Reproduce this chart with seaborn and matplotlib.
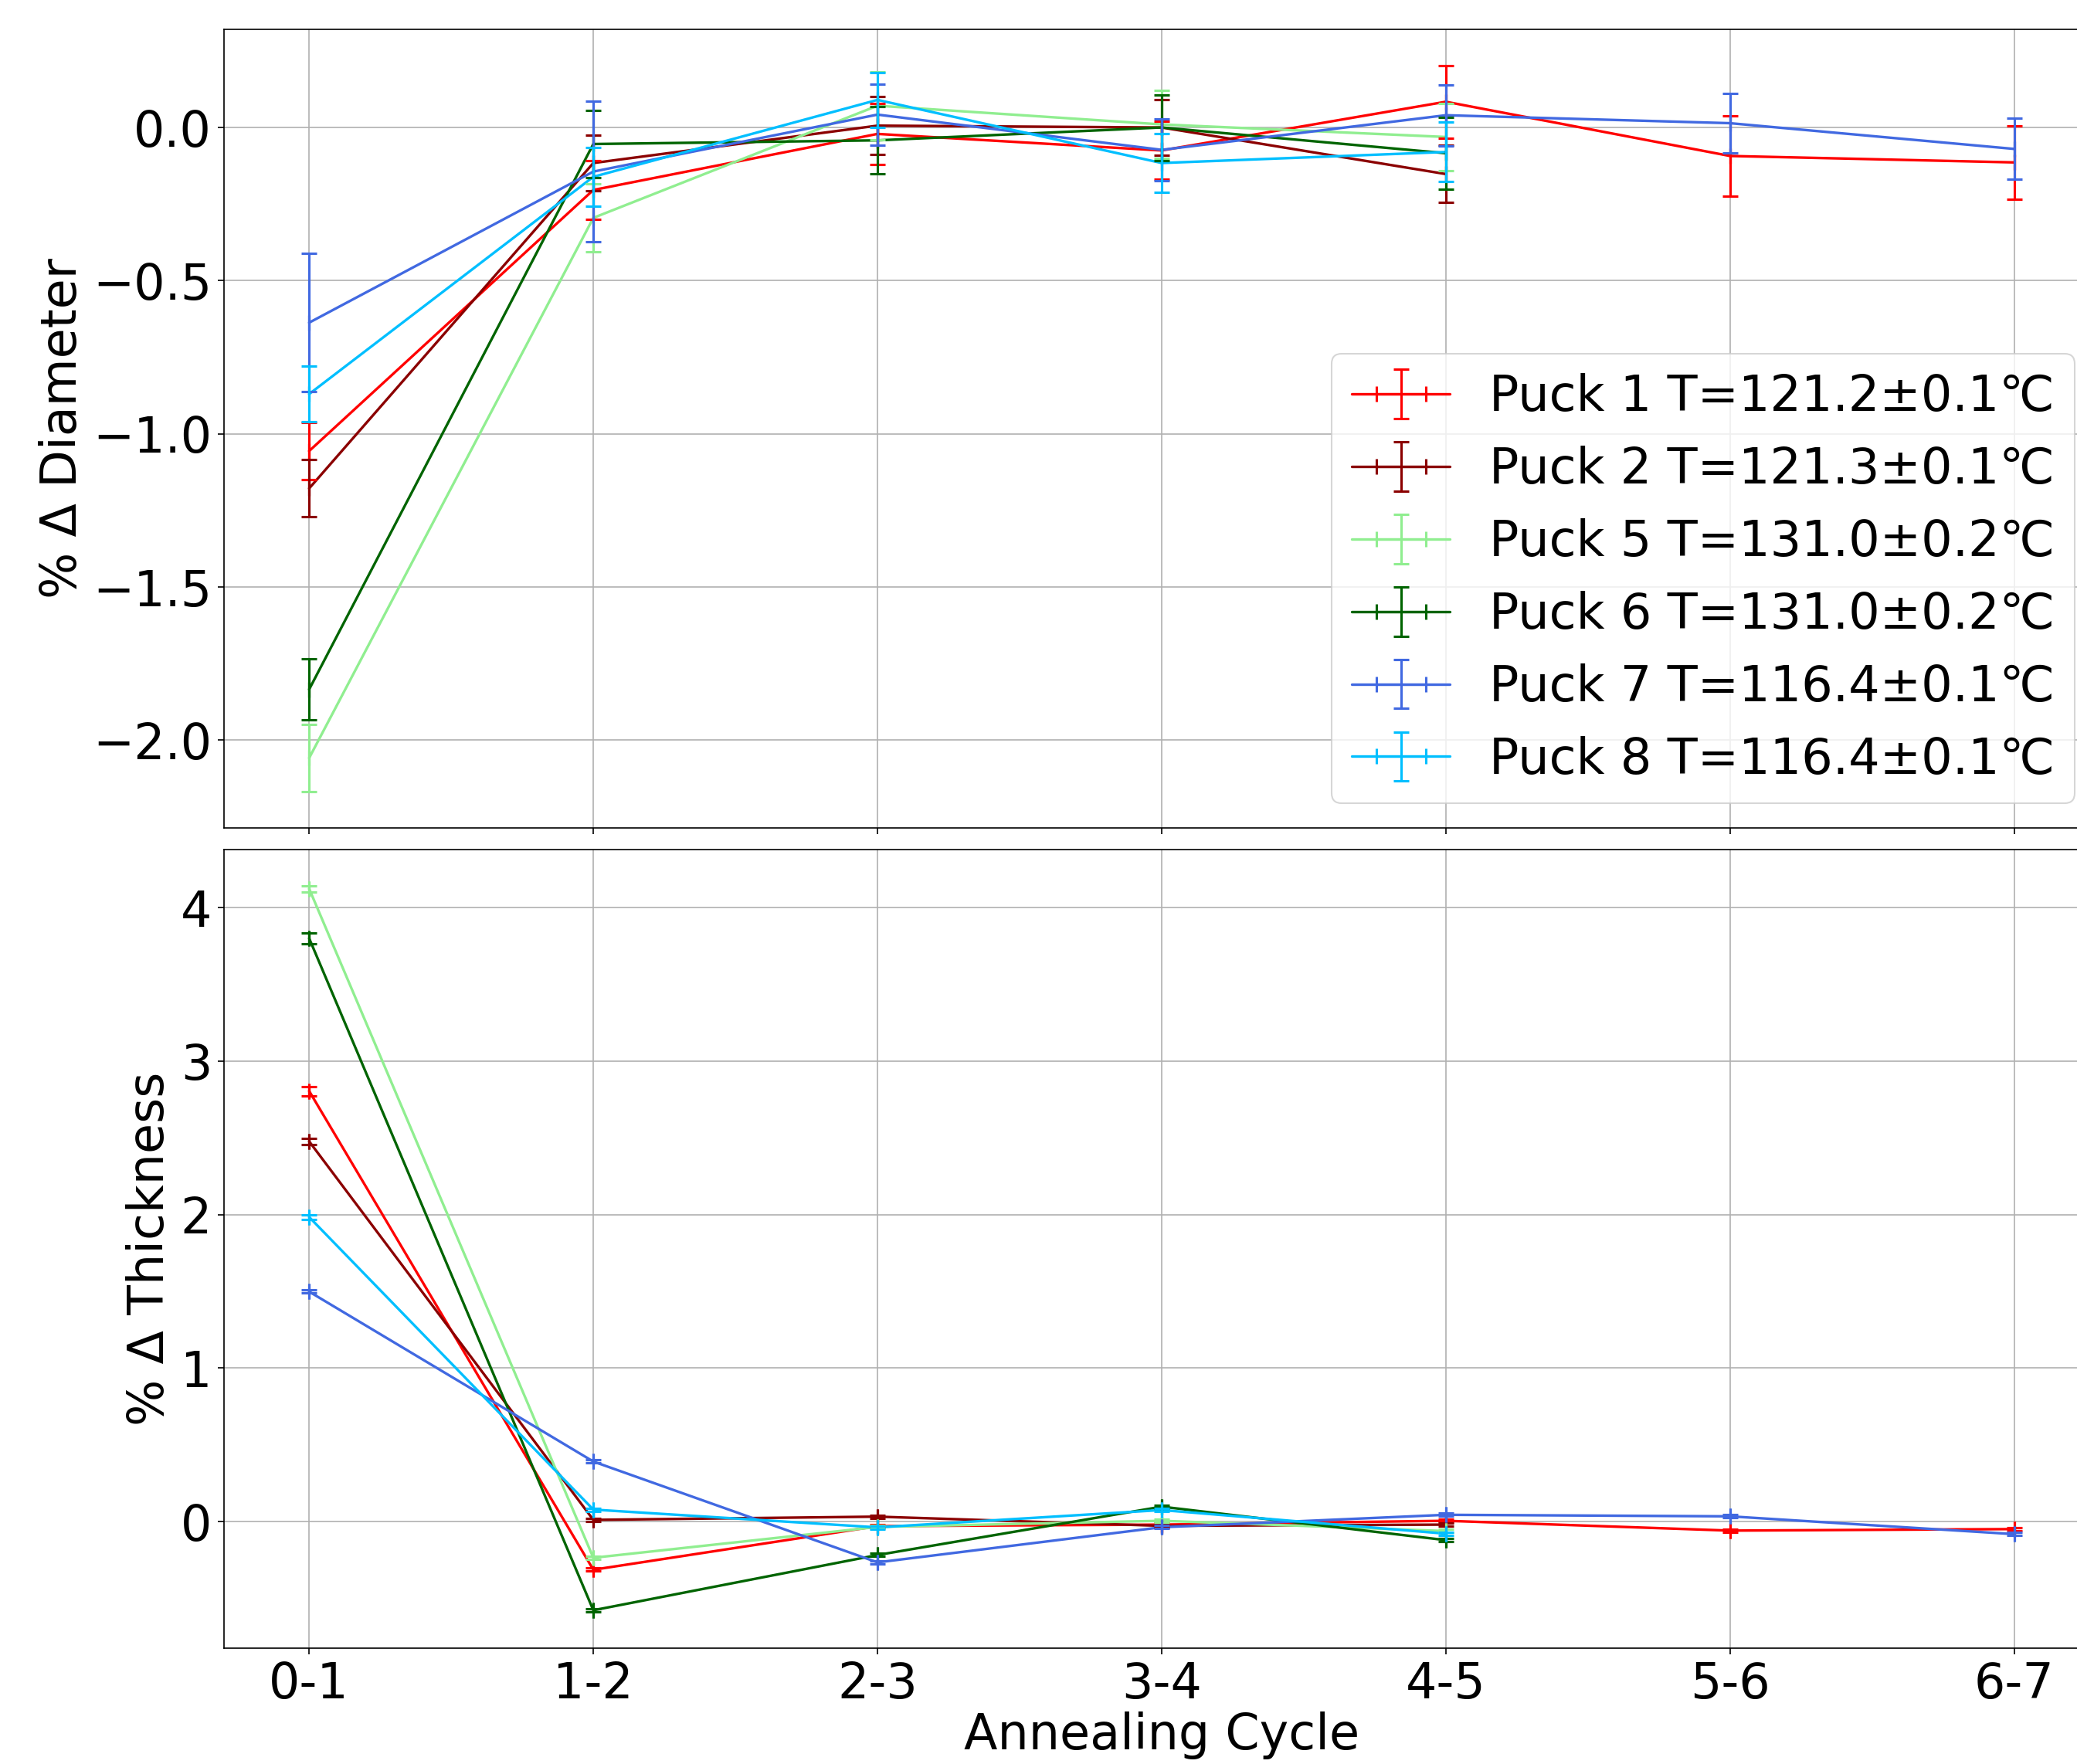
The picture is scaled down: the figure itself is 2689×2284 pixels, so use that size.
import numpy as np
import pandas as pd
import seaborn as sns
import matplotlib
matplotlib.use('Agg')
import matplotlib.pyplot as plt
from matplotlib.lines import Line2D
from matplotlib.container import ErrorbarContainer

cycles = ['0-1', '1-2', '2-3', '3-4', '4-5', '5-6', '6-7']

pucks = [
    'Puck 1 T=121.2±0.1℃',
    'Puck 2 T=121.3±0.1℃',
    'Puck 5 T=131.0±0.2℃',
    'Puck 6 T=131.0±0.2℃',
    'Puck 7 T=116.4±0.1℃',
    'Puck 8 T=116.4±0.1℃',
]
colours = ['red', 'darkred', 'lightgreen', 'darkgreen', 'royalblue', 'deepskyblue']

# % change in diameter per annealing cycle
diam_p1 = [-1.056, -0.204, -0.021, -0.075, 0.084, -0.093, -0.114]
diam_p2 = [-1.178, -0.116, 0.006, 0.000, -0.152]
diam_p5 = [-2.058, -0.295, 0.071, 0.010, -0.031]
diam_p6 = [-1.834, -0.054, -0.042, 0.000, -0.084]
diam_p7 = [-0.637, -0.144, 0.042, -0.073, 0.040, 0.014, -0.070]
diam_p8 = [-0.870, -0.161, 0.090, -0.116, -0.080]

diam_err_p1 = [0.093, 0.097, 0.100, 0.095, 0.118, 0.130, 0.120]
diam_err_p2 = [0.093, 0.090, 0.095, 0.090, 0.093]
diam_err_p5 = [0.110, 0.110, 0.110, 0.110, 0.110]
diam_err_p6 = [0.100, 0.110, 0.110, 0.107, 0.117]
diam_err_p7 = [0.225, 0.230, 0.100, 0.100, 0.100, 0.098, 0.100]
diam_err_p8 = [0.090, 0.095, 0.090, 0.095, 0.097]

# % change in thickness per annealing cycle
thick_p1 = [2.805, -0.314, -0.030, -0.020, 0.005, -0.059, -0.049]
thick_p2 = [2.477, 0.011, 0.032, -0.028, -0.020]
thick_p5 = [4.123, -0.236, -0.035, 0.005, -0.062]
thick_p6 = [3.800, -0.578, -0.218, 0.097, -0.121]
thick_p7 = [1.498, 0.391, -0.266, -0.037, 0.044, 0.034, -0.082]
thick_p8 = [1.984, 0.078, -0.038, 0.075, -0.079]

thick_err_p1 = [0.030, 0.010, 0.010, 0.010, 0.010, 0.010, 0.010]
thick_err_p2 = [0.020, 0.010, 0.010, 0.010, 0.010]
thick_err_p5 = [0.020, 0.010, 0.010, 0.010, 0.010]
thick_err_p6 = [0.035, 0.010, 0.010, 0.010, 0.010]
thick_err_p7 = [0.010, 0.010, 0.010, 0.010, 0.010, 0.010, 0.010]
thick_err_p8 = [0.015, 0.010, 0.010, 0.010, 0.010]

diam = [diam_p1, diam_p2, diam_p5, diam_p6, diam_p7, diam_p8]
diam_err = [diam_err_p1, diam_err_p2, diam_err_p5, diam_err_p6, diam_err_p7, diam_err_p8]
thick = [thick_p1, thick_p2, thick_p5, thick_p6, thick_p7, thick_p8]
thick_err = [thick_err_p1, thick_err_p2, thick_err_p5, thick_err_p6, thick_err_p7, thick_err_p8]


def long_df(values, errors):
    rows = []
    for name, vals, errs in zip(pucks, values, errors):
        for i, (v, e) in enumerate(zip(vals, errs)):
            rows.append({'puck': name, 'cycle': cycles[i], 'pos': i, 'value': v, 'err': e})
    return pd.DataFrame(rows)


df_diam = long_df(diam, diam_err)
df_thick = long_df(thick, thick_err)

sns.set_style('ticks', {
    'axes.grid': True,
    'grid.color': '#b0b0b0',
    'grid.linestyle': '-',
    'axes.edgecolor': 'black',
    'text.color': 'black',
    'axes.labelcolor': 'black',
    'xtick.color': 'black',
    'ytick.color': 'black',
})
plt.rcParams['font.family'] = ['DejaVu Sans']
plt.rcParams['font.size'] = 30.5
plt.rcParams['grid.linewidth'] = 0.8
plt.rcParams['xtick.major.size'] = 4
plt.rcParams['ytick.major.size'] = 4
plt.rcParams['xtick.major.width'] = 0.8
plt.rcParams['ytick.major.width'] = 0.8
plt.rcParams['axes.linewidth'] = 0.8

palette = dict(zip(pucks, colours))

fig, (ax1, ax2) = plt.subplots(2, 1, sharex=True, figsize=(2689 / 150, 2284 / 150), dpi=150)
ax1.set_position([0.1078, 0.5306, 0.9030, 0.4528])
ax2.set_position([0.1078, 0.0657, 0.9030, 0.4528])

handles = []
for ax, df in [(ax1, df_diam), (ax2, df_thick)]:
    sns.lineplot(data=df, x='pos', y='value', hue='puck', palette=palette,
                 hue_order=pucks, sort=False, errorbar=None, legend=False,
                 lw=1.6, ax=ax)
    for name in pucks:
        sub = df[df['puck'] == name]
        eb = ax.errorbar(sub['pos'], sub['value'], yerr=sub['err'], xerr=0,
                         fmt='none', ecolor=palette[name], elinewidth=1.5,
                         capsize=5, capthick=1.5)
        if ax is ax1:
            proxy = Line2D([], [], color=palette[name], lw=1.6)
            handles.append(ErrorbarContainer((proxy, eb[1], eb[2]),
                                             has_xerr=True, has_yerr=True,
                                             label=name))

ax1.set_xticks(range(len(cycles)), cycles)
ax1.tick_params(labelbottom=False)
ax1.set_yticks([-2.0, -1.5, -1.0, -0.5, 0.0])
ax2.set_yticks([0, 1, 2, 3, 4])
ax1.set_xlabel('')
ax1.set_ylabel('% Δ Diameter')
ax2.set_ylabel('% Δ Thickness')
ax2.set_xlabel('Annealing Cycle', labelpad=2)

for ax in (ax1, ax2):
    ax.grid(True)
    for s in ax.spines.values():
        s.set_visible(True)

ax1.legend(handles=handles, labels=pucks, loc='lower right', fontsize=30.6)

fig.savefig('out.png', dpi=150)
